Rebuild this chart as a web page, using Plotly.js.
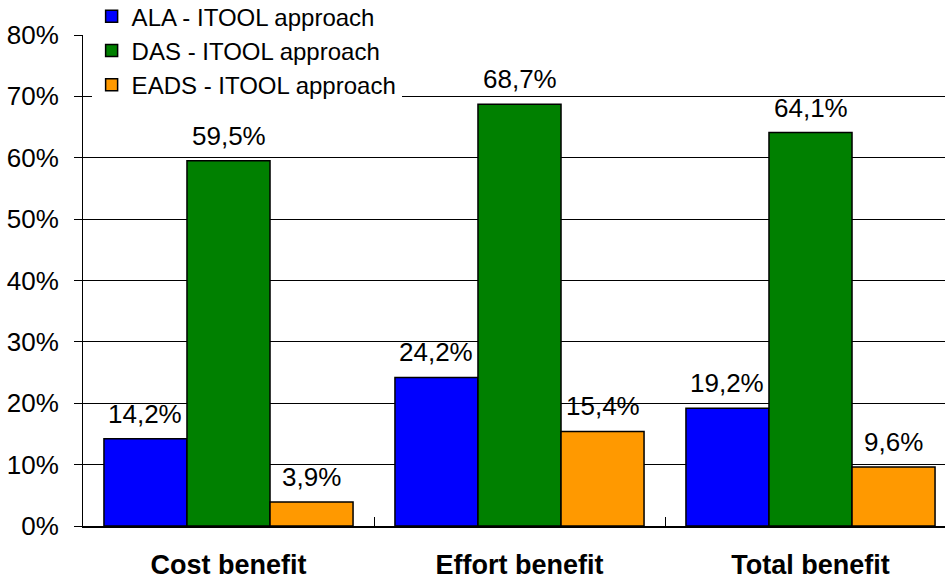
<!DOCTYPE html>
<html>
<head>
<meta charset="utf-8">
<script src="https://cdn.plot.ly/plotly-3.0.1.min.js"></script>
<style>
  html, body { margin: 0; padding: 0; background: #fff; }
  #chart { width: 945px; height: 581px; }
</style>
</head>
<body>
<div id="chart"></div>
<script>
// Benefit categories and the three approaches (shares as fractions)
const categories = ['Cost benefit', 'Effort benefit', 'Total benefit'];
const seriesNames = ['ALA - ITOOL approach', 'DAS - ITOOL approach', 'EADS - ITOOL approach'];
const alaValues = [0.142, 0.242, 0.192];
const dasValues = [0.595, 0.687, 0.641];
const eadsValues = [0.039, 0.154, 0.096];
const seriesColors = ['#0000ff', '#008000', '#ff9900'];

const allSeries = [alaValues, dasValues, eadsValues];
const BAR_GAP = 0.144;
const barWidth = (1 - BAR_GAP) / allSeries.length;

const traces = allSeries.map((vals, i) => ({
  type: 'bar',
  name: seriesNames[i],
  x: categories,
  y: vals,
  marker: { color: seriesColors[i], line: { color: '#000', width: 1.5 } },
  hoverinfo: 'skip'
}));

// Value labels above each bar, positioned at the bar's slot in the group
const fmt = v => (v * 100).toFixed(1).replace('.', ',') + '%';
const annotations = [];
allSeries.forEach((vals, i) => {
  const offset = (i - (allSeries.length - 1) / 2) * barWidth;
  vals.forEach((v, j) => {
    annotations.push({
      xref: 'x', yref: 'y',
      x: j + offset, y: v,
      text: fmt(v),
      showarrow: false,
      xanchor: 'center', yanchor: 'bottom',
      yshift: 8,
      font: { family: 'Liberation Sans, Arial, sans-serif', size: 26, color: '#000' }
    });
  });
});

const layout = {
  width: 945,
  height: 581,
  margin: { l: 83, r: 0, t: 35, b: 55, pad: 0, autoexpand: false },
  paper_bgcolor: '#fff',
  plot_bgcolor: '#fff',
  separators: ',.',
  barmode: 'group',
  bargap: BAR_GAP,
  bargroupgap: 0,
  showlegend: true,
  legend: {
    x: 0.01, xanchor: 'left',
    y: 1.083, yanchor: 'top',
    bgcolor: '#fff',
    borderwidth: 0,
    font: { family: 'Liberation Sans, Arial, sans-serif', size: 24, color: '#000' },
    traceorder: 'normal'
  },
  xaxis: {
    type: 'category',
    automargin: false,
    range: [-0.5, -0.5 + 862 / 291],
    showline: true, linecolor: '#000', linewidth: 1.5,
    showgrid: false, zeroline: false,
    ticks: 'inside', tickson: 'boundaries', ticklen: 9, tickcolor: '#000', tickwidth: 1,
    ticklabelstandoff: 14,
    tickfont: { family: 'Liberation Sans, Arial, sans-serif', size: 27, color: '#000', weight: 'bold' },
    fixedrange: true
  },
  yaxis: {
    automargin: false,
    range: [0, 0.8],
    dtick: 0.1,
    tickformat: '.0%',
    showline: true, linecolor: '#000', linewidth: 1,
    showgrid: true, gridcolor: '#000', gridwidth: 1,
    zeroline: false,
    ticks: 'outside', ticklen: 8, tickcolor: '#000', tickwidth: 1,
    ticklabelstandoff: 10,
    tickfont: { family: 'Liberation Sans, Arial, sans-serif', size: 26, color: '#000' },
    fixedrange: true
  },
  annotations: annotations
};

Plotly.newPlot('chart', traces, layout, { displayModeBar: false, staticPlot: true });
</script>
</body>
</html>
